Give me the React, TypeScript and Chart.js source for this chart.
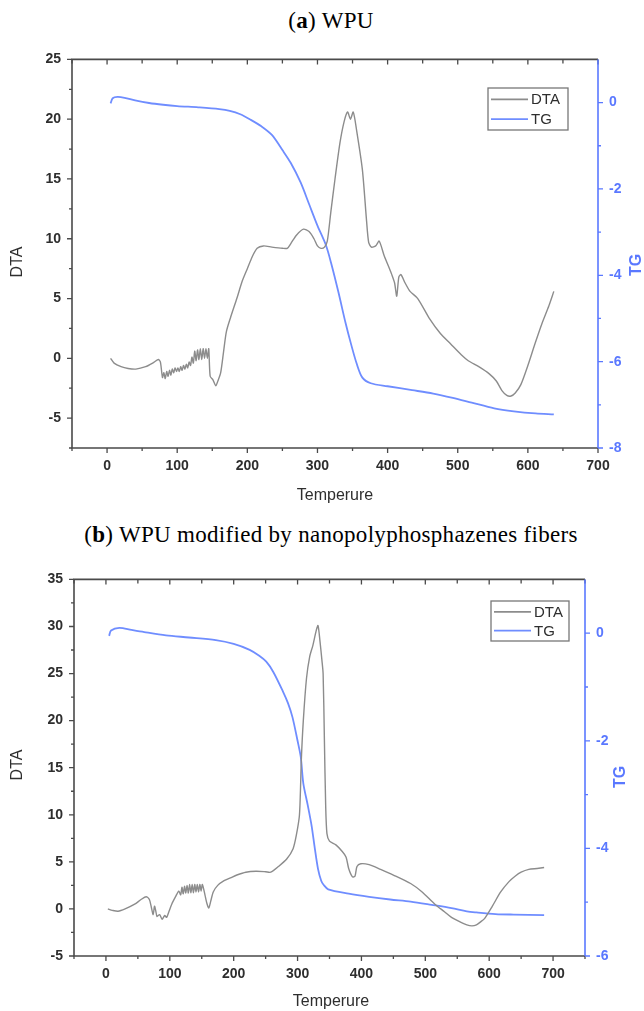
import React, { useEffect, useRef } from "react";
import { Chart, registerables } from "chart.js";

Chart.register(...registerables);

// ---------- (a) WPU ----------
const tempDtaA = [5, 10, 20, 30, 41, 55, 65, 73, 76, 79, 81, 83, 85, 87, 89, 91, 93, 95, 97, 99, 101, 103, 105, 107, 109, 111, 113, 115, 117, 119, 121, 123, 125, 127, 129, 131, 133, 135, 137, 139, 141, 143, 145, 147, 151, 155, 158, 162, 166, 170, 176, 185, 193, 200, 207, 214, 223, 235, 250, 257, 262, 270, 280, 288, 295, 300, 305, 310, 314, 319, 325, 332, 338, 343, 347, 351, 356, 364, 370, 373, 377, 383, 388, 395, 402, 406, 410, 413, 416, 419, 425, 432, 443, 460, 475, 490, 505, 515, 530, 545, 555, 563, 570, 576, 582, 590, 600, 610, 620, 630, 637];
const dtaA = [0, -0.4, -0.7, -0.85, -0.9, -0.7, -0.4, -0.1, -0.3, -1.6, -1.2, -1.7, -1.1, -1.5, -1.0, -1.4, -0.9, -1.2, -0.8, -1.1, -0.8, -1.1, -0.7, -1.0, -0.6, -0.9, -0.5, -0.8, -0.3, -0.6, 0.1, -0.4, 0.6, -0.2, 0.7, -0.1, 0.8, -0.1, 0.8, 0.0, 0.8, 0.0, 0.8, -1.5, -1.8, -2.3, -1.9, -1.2, 0.5, 2.2, 3.4, 5.0, 6.5, 7.5, 8.5, 9.2, 9.4, 9.3, 9.2, 9.2, 9.6, 10.3, 10.8, 10.6, 10.0, 9.4, 9.2, 9.3, 9.8, 12.2, 15.0, 18.0, 19.8, 20.6, 20.0, 20.6, 19.0, 15.8, 11.5, 9.7, 9.3, 9.4, 9.8, 8.6, 7.6, 7.0, 6.3, 5.2, 6.8, 7.0, 6.3, 5.6, 5.0, 3.3, 2.1, 1.2, 0.3, -0.2, -0.7, -1.3, -1.9, -2.7, -3.1, -3.15, -2.9, -2.2, -0.6, 1.2, 2.9, 4.4, 5.6];
const tempTgA = [5, 8, 15, 25, 40, 60, 80, 100, 130, 160, 175, 190, 205, 220, 235, 250, 262, 276, 288, 300, 312, 320, 330, 340, 348, 356, 364, 376, 400, 435, 465, 493, 520, 552, 580, 611, 637];
const tgA = [-0.02, 0.1, 0.13, 0.11, 0.05, -0.01, -0.05, -0.08, -0.11, -0.15, -0.19, -0.27, -0.4, -0.55, -0.75, -1.1, -1.4, -1.85, -2.35, -2.85, -3.3, -3.75, -4.4, -5.1, -5.6, -6.05, -6.37, -6.5, -6.57, -6.66, -6.74, -6.84, -6.95, -7.08, -7.15, -7.2, -7.22];

const xTicksA = [0, 100, 200, 300, 400, 500, 600, 700];
const xMinorA = [-50, 50, 150, 250, 350, 450, 550, 650];
const yTicksA = [-5, 0, 5, 10, 15, 20, 25];
const yMinorA = [-7.5, -2.5, 2.5, 7.5, 12.5, 17.5, 22.5];
const y1TicksA = [-8, -6, -4, -2, 0];
const y1MinorA = [-7, -5, -3, -1];

// ---------- (b) WPU modified by nanopolyphosphazenes fibers ----------
const tempDtaB = [3, 10, 19, 30, 45, 55, 63, 68, 71, 74, 76, 78, 80, 84, 88, 92, 95, 98, 103, 109, 114, 117, 119, 121, 123, 125, 127, 129, 131, 133, 135, 137, 139, 141, 143, 145, 147, 149, 151, 155, 158, 161, 164, 168, 175, 185, 195, 205, 219, 235, 250, 258, 270, 283, 293, 298, 303, 306, 309, 314, 319, 324, 329, 332, 335, 338, 340, 342, 344, 346, 350, 360, 370, 376, 380, 386, 390, 393, 399, 412, 430, 450, 477, 495, 515, 530, 541, 555, 565, 573, 580, 586, 593, 605, 618, 631, 641, 650, 662, 675, 686];
const dtaB = [0, -0.15, -0.25, 0.0, 0.5, 1.0, 1.3, 1.0, 0.2, -0.6, 0.3, -0.2, -0.8, -0.6, -1.1, -0.7, -0.9, -0.4, 0.5, 1.3, 1.9, 1.5, 2.3, 1.6, 2.4, 1.7, 2.5, 1.7, 2.6, 1.7, 2.6, 1.7, 2.6, 1.8, 2.6, 1.8, 2.6, 1.9, 2.6, 1.5, 0.6, 0.1, 0.8, 1.8, 2.5, 3.0, 3.3, 3.6, 3.9, 4.0, 3.95, 3.9, 4.5, 5.3, 6.4, 7.8, 10.0, 16.0, 20.0, 24.5, 26.8, 28.0, 29.5, 30.1, 28.5, 26.5, 25.0, 18.0, 11.0, 8.0, 7.2, 6.8, 6.1, 5.5, 4.3, 3.4, 3.5, 4.5, 4.8, 4.7, 4.2, 3.6, 2.7, 1.8, 0.5, -0.3, -0.9, -1.4, -1.7, -1.8, -1.7, -1.4, -1.0, 0.3, 1.8, 2.9, 3.5, 3.9, 4.2, 4.3, 4.4];
const tempTgB = [5, 8, 21, 40, 60, 94, 130, 172, 200, 225, 240, 251, 262, 277, 285, 292, 300, 305, 309, 316, 322, 327, 332, 337, 341, 348, 380, 412, 445, 477, 510, 541, 565, 580, 610, 638, 686];
const tgB = [-0.05, 0.05, 0.1, 0.06, 0.02, -0.04, -0.08, -0.13, -0.2, -0.31, -0.42, -0.53, -0.72, -1.08, -1.3, -1.56, -2.0, -2.3, -2.79, -3.2, -3.58, -4.0, -4.38, -4.6, -4.68, -4.76, -4.84, -4.9, -4.95, -4.99, -5.05, -5.11, -5.17, -5.19, -5.22, -5.23, -5.24];

const xTicksB = [0, 100, 200, 300, 400, 500, 600, 700];
const xMinorB = [-50, 50, 150, 250, 350, 450, 550, 650, 750];
const yTicksB = [-5, 0, 5, 10, 15, 20, 25, 30, 35];
const yMinorB = [-2.5, 2.5, 7.5, 12.5, 17.5, 22.5, 27.5, 32.5];
const y1TicksB = [-6, -4, -2, 0];
const y1MinorB = [-5, -3, -1];

const DTA_COLOR = "#8c8c8c";
const TG_COLOR = "#6f8dff";
const AXIS_BLUE = "#5a78ff";
const FRAME = "#4a4a4a";
const TEXT = "#2e2e2e";
const SANS = "'Liberation Sans', Arial, sans-serif";

type Cfg = {
  xMin: number; xMax: number; yMin: number; yMax: number; y1Min: number; y1Max: number;
  xTicks: number[]; xMinor: number[]; yTicks: number[]; yMinor: number[]; y1Ticks: number[]; y1Minor: number[];
  leftW: number; rightW: number; bottomH: number; topPad: number;
  xTitle: [number, number]; yTitle: [number, number]; y1Title: [number, number];
  legend: [number, number, number, number];
  tempDta: number[]; dta: number[]; tempTg: number[]; tg: number[];
};

function decoPlugin(cfg: Cfg) {
  return {
    id: "deco",
    afterDraw(chart: any) {
      const { ctx, chartArea } = chart;
      const { left, right, top, bottom } = chartArea;
      const sx = chart.scales.x, sy = chart.scales.y, sy1 = chart.scales.y1;
      ctx.save();
      ctx.lineCap = "butt";
      ctx.strokeStyle = FRAME;
      ctx.lineWidth = 1.6;
      ctx.beginPath();
      ctx.moveTo(right, top);
      ctx.lineTo(left, top);
      ctx.lineTo(left, bottom);
      ctx.lineTo(right, bottom);
      ctx.stroke();
      ctx.lineWidth = 1.3;
      ctx.beginPath();
      for (const v of cfg.xTicks) {
        const px = sx.getPixelForValue(v);
        ctx.moveTo(px, bottom); ctx.lineTo(px, bottom + 5);
        ctx.moveTo(px, top); ctx.lineTo(px, top + 5);
      }
      for (const v of cfg.xMinor) {
        const px = sx.getPixelForValue(v);
        ctx.moveTo(px, bottom); ctx.lineTo(px, bottom + 3);
        ctx.moveTo(px, top); ctx.lineTo(px, top + 4);
      }
      for (const v of cfg.yTicks) {
        const py = sy.getPixelForValue(v);
        ctx.moveTo(left, py); ctx.lineTo(left - 5, py);
      }
      for (const v of cfg.yMinor) {
        const py = sy.getPixelForValue(v);
        ctx.moveTo(left, py); ctx.lineTo(left - 3, py);
      }
      ctx.stroke();
      ctx.strokeStyle = AXIS_BLUE;
      ctx.lineWidth = 1.6;
      ctx.beginPath();
      ctx.moveTo(right, top); ctx.lineTo(right, bottom);
      ctx.stroke();
      ctx.lineWidth = 1.3;
      ctx.beginPath();
      for (const v of cfg.y1Ticks) {
        const py = sy1.getPixelForValue(v);
        ctx.moveTo(right, py); ctx.lineTo(right + 5, py);
      }
      for (const v of cfg.y1Minor) {
        const py = sy1.getPixelForValue(v);
        ctx.moveTo(right, py); ctx.lineTo(right + 3, py);
      }
      ctx.stroke();

      ctx.font = `16px ${SANS}`;
      ctx.fillStyle = TEXT;
      ctx.textAlign = "center";
      ctx.textBaseline = "middle";
      ctx.fillText("Temperure", cfg.xTitle[0], cfg.xTitle[1]);
      ctx.save();
      ctx.translate(cfg.yTitle[0], cfg.yTitle[1]);
      ctx.rotate(-Math.PI / 2);
      ctx.fillText("DTA", 0, 0);
      ctx.restore();
      ctx.save();
      ctx.fillStyle = AXIS_BLUE;
      ctx.font = `bold 16px ${SANS}`;
      ctx.translate(cfg.y1Title[0], cfg.y1Title[1]);
      ctx.rotate(-Math.PI / 2);
      ctx.fillText("TG", 0, 0);
      ctx.restore();

      const [lx, ly, lw, lh] = cfg.legend;
      ctx.strokeStyle = "#777";
      ctx.lineWidth = 1.3;
      ctx.fillStyle = "#fff";
      ctx.fillRect(lx, ly, lw, lh);
      ctx.strokeRect(lx, ly, lw, lh);
      const ds = chart.data.datasets;
      const rowY = [ly + lh * 0.27, ly + lh * 0.74];
      ds.forEach((d: any, i: number) => {
        ctx.strokeStyle = d.borderColor;
        ctx.lineWidth = 1.8;
        ctx.beginPath();
        ctx.moveTo(lx + 3, rowY[i]);
        ctx.lineTo(lx + 40, rowY[i]);
        ctx.stroke();
        ctx.fillStyle = TEXT;
        ctx.font = `15px ${SANS}`;
        ctx.textAlign = "left";
        ctx.textBaseline = "middle";
        ctx.fillText(d.label, lx + 43, rowY[i] + 1);
      });
      ctx.restore();
    },
  };
}

function ThermoChart({ cfg, width, height }: { cfg: Cfg; width: number; height: number }) {
  const ref = useRef<HTMLCanvasElement | null>(null);
  useEffect(() => {
    if (!ref.current) return;
    const tickFont = { family: SANS, size: 14, weight: "bold" as const };
    const chart = new Chart(ref.current, {
      type: "line",
      data: {
        datasets: [
          {
            label: "DTA",
            data: cfg.tempDta.map((t, i) => ({ x: t, y: cfg.dta[i] })),
            borderColor: DTA_COLOR,
            borderWidth: 1.4,
            pointRadius: 0,
            tension: 0.25,
            yAxisID: "y",
          },
          {
            label: "TG",
            data: cfg.tempTg.map((t, i) => ({ x: t, y: cfg.tg[i] })),
            borderColor: TG_COLOR,
            borderWidth: 1.8,
            pointRadius: 0,
            tension: 0.3,
            yAxisID: "y1",
          },
        ],
      },
      options: {
        responsive: false,
        animation: false,
        devicePixelRatio: 1,
        layout: { padding: { top: cfg.topPad, left: 0, right: 0, bottom: 0 } },
        plugins: { legend: { display: false }, tooltip: { enabled: false }, title: { display: false } },
        scales: {
          x: {
            type: "linear",
            min: cfg.xMin,
            max: cfg.xMax,
            grid: { display: false, drawTicks: false },
            border: { display: false },
            ticks: { padding: 10, color: TEXT, font: tickFont, maxRotation: 0, autoSkip: false },
            afterBuildTicks: (s: any) => { s.ticks = cfg.xTicks.map((v) => ({ value: v })); },
            afterFit: (s: any) => { s.height = cfg.bottomH; },
          },
          y: {
            type: "linear",
            position: "left",
            min: cfg.yMin,
            max: cfg.yMax,
            grid: { display: false, drawTicks: false },
            border: { display: false },
            ticks: { padding: 11, color: TEXT, font: tickFont, autoSkip: false },
            afterBuildTicks: (s: any) => { s.ticks = cfg.yTicks.map((v) => ({ value: v })); },
            afterFit: (s: any) => { s.width = cfg.leftW; },
          },
          y1: {
            type: "linear",
            position: "right",
            min: cfg.y1Min,
            max: cfg.y1Max,
            grid: { display: false, drawTicks: false },
            border: { display: false },
            ticks: { padding: 11, color: AXIS_BLUE, font: tickFont, autoSkip: false },
            afterBuildTicks: (s: any) => { s.ticks = cfg.y1Ticks.map((v) => ({ value: v })); },
            afterFit: (s: any) => { s.width = cfg.rightW; },
          },
        },
      },
      plugins: [decoPlugin(cfg)],
    } as any);
    return () => chart.destroy();
  }, [cfg]);
  return <canvas ref={ref} width={width} height={height} style={{ display: "block", width, height }} />;
}

const cfgA: Cfg = {
  xMin: -50, xMax: 700, yMin: -7.5, yMax: 25, y1Min: -8, y1Max: 1,
  xTicks: xTicksA, xMinor: xMinorA, yTicks: yTicksA, yMinor: yMinorA, y1Ticks: y1TicksA, y1Minor: y1MinorA,
  leftW: 72, rightW: 46, bottomH: 72, topPad: 15,
  xTitle: [335, 456], yTitle: [18, 222], y1Title: [637, 225],
  legend: [488, 48, 80, 42],
  tempDta: tempDtaA, dta: dtaA, tempTg: tempTgA, tg: tgA,
};

const cfgB: Cfg = {
  xMin: -50, xMax: 750, yMin: -5, yMax: 35, y1Min: -6, y1Max: 1,
  xTicks: xTicksB, xMinor: xMinorB, yTicks: yTicksB, yMinor: yMinorB, y1Ticks: y1TicksB, y1Minor: y1MinorB,
  leftW: 74, rightW: 59, bottomH: 55, topPad: 14,
  xTitle: [331, 442], yTitle: [18, 205], y1Title: [621, 217],
  legend: [491, 41, 78, 40],
  tempDta: tempDtaB, dta: dtaB, tempTg: tempTgB, tg: tgB,
};

const titleStyle: React.CSSProperties = {
  position: "absolute",
  left: 0,
  width: 662,
  textAlign: "center",
  fontFamily: "'Liberation Serif', 'Times New Roman', serif",
  fontSize: 23,
  letterSpacing: "0.3px",
  lineHeight: "26px",
  color: "#000",
  whiteSpace: "nowrap",
};

export default function App() {
  return (
    <div style={{ position: "absolute", left: 0, top: 0, width: 644, height: 1011, background: "#fff", overflow: "hidden" }}>
      <div style={{ ...titleStyle, top: 8 }}>
        (<b>a</b>) WPU
      </div>
      <div style={{ position: "absolute", left: 0, top: 40 }}>
        <ThermoChart cfg={cfgA} width={644} height={480} />
      </div>
      <div style={{ ...titleStyle, top: 522 }}>
        (<b>b</b>) WPU modified by nanopolyphosphazenes fibers
      </div>
      <div style={{ position: "absolute", left: 0, top: 560 }}>
        <ThermoChart cfg={cfgB} width={644} height={451} />
      </div>
    </div>
  );
}
